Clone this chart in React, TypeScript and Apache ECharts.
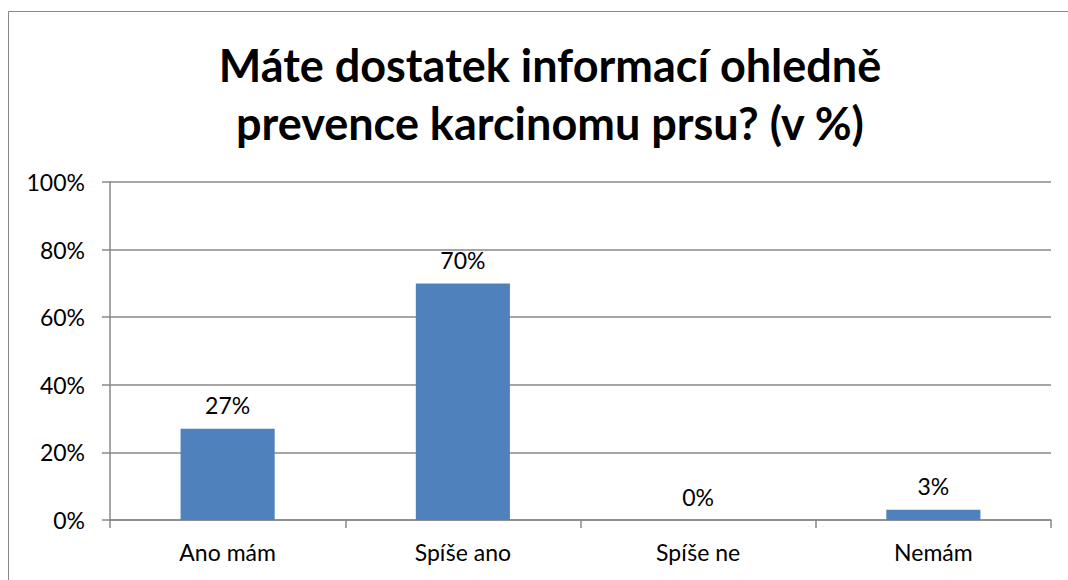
import React, { useEffect, useRef } from "react";
import * as echarts from "echarts";

const categories = ["Ano mám", "Spíše ano", "Spíše ne", "Nemám"];
const values = [27, 70, 0, 3];
const titleLines = ["Máte dostatek informací ohledně", "prevence karcinomu prsu? (v %)"];

export default function App() {
  const ref = useRef<HTMLDivElement>(null);
  useEffect(() => {
    const chart = echarts.init(ref.current!, null, { renderer: "svg" });
    const font = "Lato, 'Open Sans', sans-serif";
    chart.setOption({
      animation: false,
      backgroundColor: "#ffffff",
      title: {
        text: titleLines.join("\n"),
        left: 545,
        textAlign: "center",
        top: 31,
        textStyle: { fontFamily: font, fontWeight: "bold", fontSize: 45, lineHeight: 58, color: "#000" },
      },
      graphic: [
        {
          type: "rect",
          shape: { x: 8.5, y: 11.5, width: 1100, height: 700 },
          style: { fill: "none", stroke: "#888", lineWidth: 1 },
          silent: true,
        },
      ],
      grid: { left: 110, right: 17, top: 182, bottom: 60, containLabel: false },
      xAxis: {
        type: "category",
        data: categories,
        axisLine: { lineStyle: { color: "#888", width: 1.5 } },
        axisTick: { show: true, length: 8, alignWithLabel: false, lineStyle: { color: "#888", width: 1.5 } },
        axisLabel: { fontFamily: font, fontSize: 23, color: "#000", margin: 20 },
      },
      yAxis: {
        type: "value",
        min: 0,
        max: 100,
        interval: 20,
        axisLine: { show: true, lineStyle: { color: "#888", width: 1.5 } },
        axisTick: { show: true, length: 8, lineStyle: { color: "#888", width: 1.5 } },
        axisLabel: { fontFamily: font, fontSize: 23, color: "#000", margin: 25, formatter: "{value}%" },
        splitLine: { show: true, lineStyle: { color: "#888", width: 1.5 } },
      },
      series: [
        {
          type: "bar",
          data: values,
          barWidth: "40%",
          itemStyle: { color: "#4F81BD" },
          label: {
            show: true,
            position: "top",
            distance: 12,
            formatter: "{c}%",
            fontFamily: font,
            fontSize: 23,
            color: "#000",
          },
        },
      ],
    });
    return () => chart.dispose();
  }, []);
  return <div ref={ref} style={{ width: 1068, height: 580, position: "absolute", left: 0, top: 0 }} />;
}
